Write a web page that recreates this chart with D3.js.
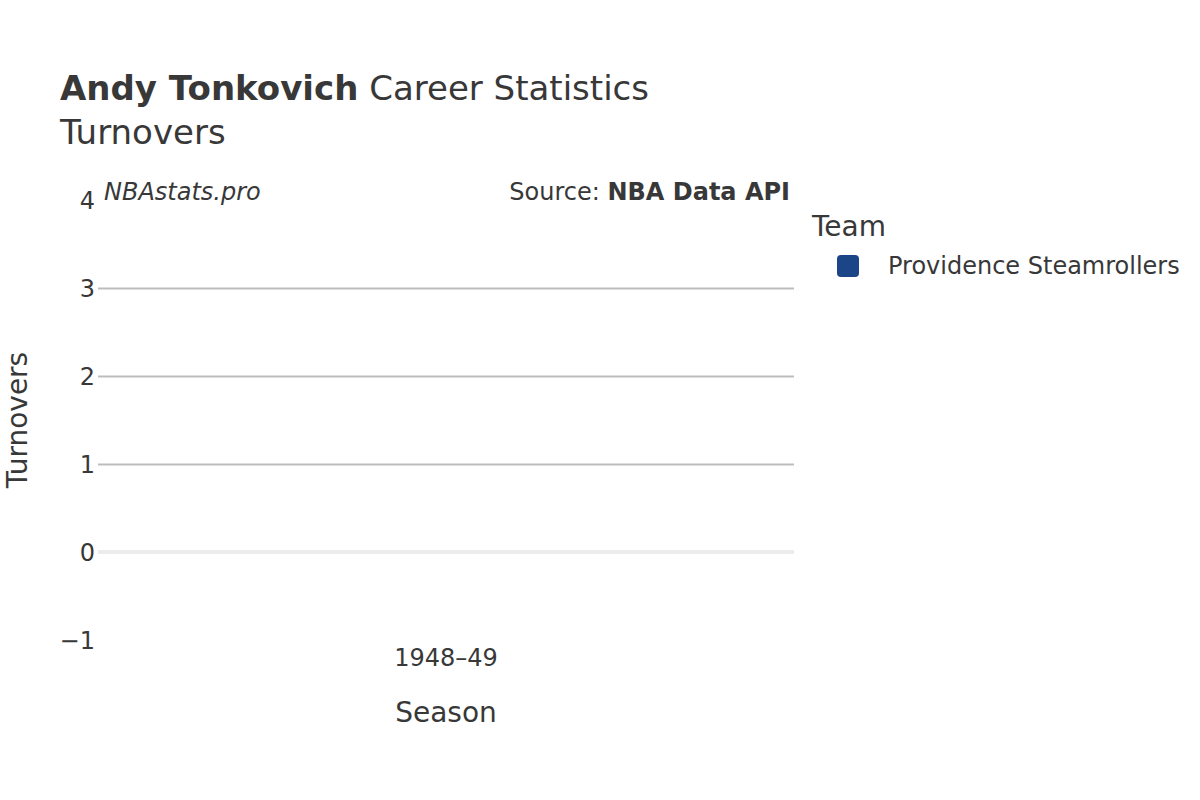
<!DOCTYPE html>
<html>
<head>
<meta charset="utf-8">
<script src="https://cdn.jsdelivr.net/npm/d3@7"></script>
<style>
  body { margin: 0; background: #fff; }
  text { font-family: "DejaVu Sans", sans-serif; fill: #383838; }
</style>
</head>
<body>
<svg id="chart"></svg>
<script>
// data
const seasons = ["1948–49"];
const teams = ["Providence Steamrollers"];
const teamColors = ["#1c4587"];
// no turnover numbers were recorded for this season
const turnovers = [null];
const yTicks = [-1, 0, 1, 2, 3, 4];

const width = 1200, height = 800;
const margin = { top: 200, right: 406, bottom: 160, left: 98 };
const innerW = width - margin.left - margin.right;
const innerH = height - margin.top - margin.bottom;

const svg = d3.select('#chart')
    .attr('width', width)
    .attr('height', height);

//title
const title = svg.append('text')
    .attr('x', 60)
    .attr('y', 100)
    .style('font-size', '34px');
title.append('tspan').style('font-weight', 'bold').text('Andy Tonkovich');
title.append('tspan').text(' Career Statistics');

svg.append('text')
    .attr('x', 60)
    .attr('y', 144)
    .style('font-size', '34px')
    .text('Turnovers');

const xScale = d3.scaleBand()
    .domain(seasons)
    .range([0, innerW])
    .padding(0.2);

const yScale = d3.scaleLinear()
    .domain([-1, 4])
    .range([innerH, 0]);

const g = svg.append('g')
    .attr('transform', `translate(${margin.left},${margin.top})`);

//grid lines
g.append('g')
    .attr('class', 'grid')
    .call(d3.axisLeft(yScale).tickValues(yTicks.filter(t => t > 0 && t < 4)).tickSize(-innerW).tickFormat(''))
    .call(s => s.select('.domain').remove())
    .call(s => s.selectAll('line').attr('stroke', '#bdbdbd').attr('stroke-width', 2));

//zero line
g.append('line')
    .attr('x1', 0)
    .attr('x2', innerW)
    .attr('y1', yScale(0))
    .attr('y2', yScale(0))
    .attr('stroke', '#ececec')
    .attr('stroke-width', 4);

//y-axis labels
g.append('g')
    .attr('class', 'y-axis')
    .call(d3.axisLeft(yScale).tickValues(yTicks).tickSize(0).tickPadding(3)
        .tickFormat(d => d < 0 ? '\u2212' + Math.abs(d) : d))
    .call(s => s.select('.domain').remove())
    .call(s => s.selectAll('text').style('font-size', '24px').attr('dy', '0.35em'));

//x-axis labels
g.append('g')
    .attr('class', 'x-axis')
    .attr('transform', `translate(0,${innerH})`)
    .call(d3.axisBottom(xScale).tickSize(0).tickPadding(9))
    .call(s => s.select('.domain').remove())
    .call(s => s.selectAll('text').style('font-size', '24px'));

//bars (only seasons with a value)
const barData = seasons.map((s, i) => ({ season: s, value: turnovers[i], team: teams[0] }))
    .filter(d => d.value !== null);
g.selectAll('rect.bar')
    .data(barData)
    .join('rect')
    .attr('class', 'bar')
    .attr('x', d => xScale(d.season))
    .attr('width', xScale.bandwidth())
    .attr('y', d => yScale(Math.max(0, d.value)))
    .attr('height', d => Math.abs(yScale(d.value) - yScale(0)))
    .attr('fill', teamColors[0]);

//axis titles
svg.append('text')
    .attr('x', margin.left + innerW / 2)
    .attr('y', 722)
    .attr('text-anchor', 'middle')
    .style('font-size', '28px')
    .text('Season');

svg.append('text')
    .attr('transform', `translate(27,${margin.top + innerH / 2}) rotate(-90)`)
    .attr('text-anchor', 'middle')
    .style('font-size', '28px')
    .text('Turnovers');

//watermark + source
svg.append('text')
    .attr('x', 104)
    .attr('y', 200)
    .style('font-size', '24px')
    .style('font-style', 'italic')
    .text('NBAstats.pro');

const src = svg.append('text')
    .attr('x', 790)
    .attr('y', 200)
    .attr('text-anchor', 'end')
    .style('font-size', '24px');
src.append('tspan').text('Source: ');
src.append('tspan').style('font-weight', 'bold').text('NBA Data API');

//legend
const legend = svg.append('g').attr('transform', 'translate(812,0)');
legend.append('text')
    .attr('x', 0)
    .attr('y', 236)
    .style('font-size', '28px')
    .text('Team');
const item = legend.selectAll('g.item')
    .data(teams)
    .join('g')
    .attr('class', 'item')
    .attr('transform', (d, i) => `translate(0,${266 + i * 36})`);
item.append('rect')
    .attr('x', 25)
    .attr('y', -11)
    .attr('width', 22)
    .attr('height', 22)
    .attr('rx', 4)
    .attr('fill', (d, i) => teamColors[i]);
item.append('text')
    .attr('x', 76)
    .attr('dy', '0.35em')
    .style('font-size', '24px')
    .text(d => d);
</script>
</body>
</html>
